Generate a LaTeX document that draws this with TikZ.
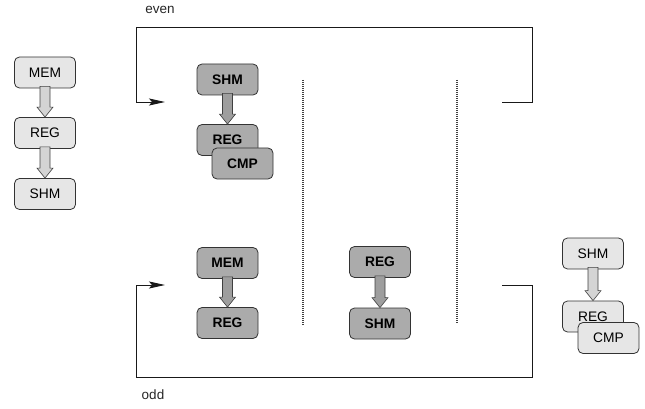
\documentclass[tikz,border=0pt]{standalone}
\usepackage{fontspec}
\setmainfont{Liberation Sans}
\usetikzlibrary{arrows.meta,calc}
\definecolor{lightbox}{HTML}{E6E6E6}
\definecolor{darkbox}{HTML}{ABABAB}
\definecolor{lightarrow}{HTML}{D4D4D4}
\definecolor{darkarrow}{HTML}{9E9E9E}
\tikzset{
  unit/.style={draw=black!80, rounded corners=5pt, minimum width=61pt,
    minimum height=31pt, inner sep=0pt, line width=0.8pt,
    font=\fontsize{13.8}{16}\selectfont},
  lightunit/.style={unit, fill=lightbox},
  darkunit/.style={unit, fill=darkbox, font=\fontsize{13.8}{16}\selectfont\bfseries},
  frame/.style={line width=0.9pt, draw=black!90},
  loopin/.style={frame, -{Stealth[length=16pt,width=7pt,inset=3pt]}},
  divider/.style={draw=black!75, line width=1.1pt, dash pattern=on 1pt off 1pt},
  tag/.style={font=\fontsize{13.5}{16}\selectfont, text=black!85}
}
% hollow block arrow from the bottom of #1 to the top of #2, filled with #3
\newcommand{\blockarrow}[3]{%
  \draw[draw=black!75, fill=#3, line width=0.6pt, line join=miter]
    let \p1=($(#1.south)+(0,2pt)$), \p2=(#2.north) in
    (\x1-5pt,\y1) -- (\x1-5pt,\y2+10pt) -- (\x1-8pt,\y2+10pt) -- (\x1,\y2)
    -- (\x1+8pt,\y2+10pt) -- (\x1+5pt,\y2+10pt) -- (\x1+5pt,\y1) -- cycle;}
\begin{document}
\begin{tikzpicture}[x=1pt,y=-1pt]
\useasboundingbox (0,0) rectangle (645,409);

% stand-alone chain on the left
\node[lightunit] (lmem) at (45,72.5) {MEM};
\node[lightunit] (lreg) at (45,133) {REG};
\node[lightunit] (lshm) at (45,194) {SHM};
\blockarrow{lmem}{lreg}{lightarrow}
\blockarrow{lreg}{lshm}{lightarrow}

% even loop
\coordinate (evenOut) at (502,102);
\coordinate (evenTR) at (532,27);
\coordinate (evenTL) at (136,27);
\coordinate (evenIn) at (165,102);
\draw[loopin] (evenOut) -| (evenTR) -- (evenTL) |- (evenIn);
\node[tag] (even) at (160,10) {even};

% odd loop
\coordinate (oddOut) at (502,285);
\coordinate (oddBR) at (532,377);
\coordinate (oddBL) at (136,377);
\coordinate (oddIn) at (165,285);
\draw[loopin] (oddOut) -| (oddBR) -- (oddBL) |- (oddIn);
\node[tag] (odd) at (153,395) {odd};

% stage dividers
\coordinate (d1t) at (303,80);
\coordinate (d1b) at (303,325);
\coordinate (d2t) at (457,80);
\coordinate (d2b) at (457,323);
\draw[divider] (d1t) -- (d1b);
\draw[divider] (d2t) -- (d2b);

% first stage, even
\node[darkunit] (eshm) at (227.5,79.5) {SHM};
\node[darkunit] (ereg) at (227.5,140) {REG};
\node[darkunit] (ecmp) at (242.5,163.5) {CMP};
\blockarrow{eshm}{ereg}{darkarrow}

% first stage, odd
\node[darkunit] (omem) at (227.5,263) {MEM};
\node[darkunit] (oreg) at (227.5,323) {REG};
\blockarrow{omem}{oreg}{darkarrow}

% second stage
\node[darkunit] (mreg) at (380,262) {REG};
\node[darkunit] (mshm) at (380,323.5) {SHM};
\blockarrow{mreg}{mshm}{darkarrow}

% chain on the right
\node[lightunit] (rshm) at (593,253.5) {SHM};
\node[lightunit] (rreg) at (593,316.5) {REG};
\node[lightunit] (rcmp) at (608.5,338) {CMP};
\blockarrow{rshm}{rreg}{lightarrow}
\end{tikzpicture}
\end{document}
